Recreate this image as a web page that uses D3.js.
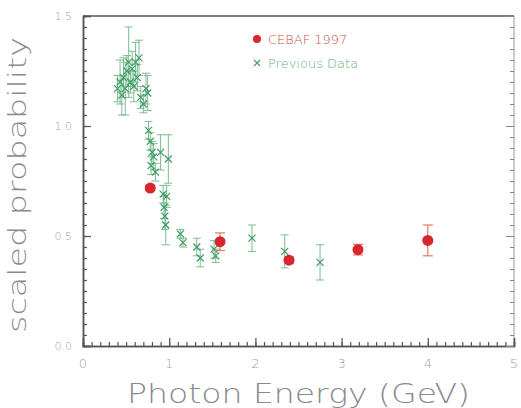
<!DOCTYPE html>
<html><head><meta charset="utf-8">
<script src="https://cdn.jsdelivr.net/npm/d3@7"></script>
<style>
body{margin:0;background:#fff;}
svg{display:block;}
text{font-family:"DejaVu Sans",sans-serif;}
</style></head>
<body><svg id="c" width="521" height="408"></svg>
<script>
// CEBAF 1997 data: energy (GeV), value, error
const cebafE   = [0.78, 1.59, 2.39, 3.19, 4.00];
const cebafVal = [0.718, 0.474, 0.390, 0.438, 0.480];
const cebafErr = [0.012, 0.040, 0.015, 0.024, 0.070];

// Previous data
const prevE   = [0.40,0.43,0.45,0.47,0.49,0.51,0.53,0.55,0.57,0.59,0.61,0.63,0.65,0.67,0.70,0.73,0.75,
                 0.76,0.78,0.80,0.82,0.79,0.84,0.90,0.99,
                 0.93,0.94,0.95,0.96,0.97,1.13,1.16,1.32,1.36,1.52,1.54,1.96,2.34,2.75];
const prevVal = [1.17,1.20,1.14,1.22,1.17,1.25,1.29,1.20,1.26,1.18,1.29,1.22,1.31,1.13,1.10,1.17,1.15,
                 0.98,0.93,0.88,0.86,0.82,0.79,0.88,0.85,
                 0.69,0.63,0.59,0.55,0.68,0.51,0.47,0.45,0.40,0.44,0.41,0.49,0.43,0.38];
const prevErr = [0.06,0.10,0.09,0.09,0.12,0.07,0.16,0.05,0.08,0.07,0.09,0.06,0.08,0.05,0.04,0.07,0.08,
                 0.04,0.04,0.05,0.06,0.04,0.04,0.08,0.11,
                 0.04,0.05,0.06,0.09,0.05,0.02,0.02,0.04,0.04,0.04,0.03,0.06,0.075,0.08];

const xTicks = [0,1,2,3,4,5];
const yTicks = [0,0.5,1.0,1.5];
const yTickLabels = ["0.0","0.5","1.0","1.5"];
const legendLabels = ["CEBAF 1997","Previous Data"];

const svg = d3.select("#c");
const x = d3.scaleLinear().domain([0,5]).range([83,514]);
const y = d3.scaleLinear().domain([0,1.5]).range([346,16]);

const axisCol = "#555", lblCol = "#a0a0a0";
const green = "#3d9c62", greenBar = "#7dbb93", red = "#d7262e", redBar = "#e27a63";

// frame
svg.append("line").attr("x1",x(0)).attr("x2",x(5)).attr("y1",y(1.5)).attr("y2",y(1.5)).attr("stroke",axisCol).attr("stroke-width",1.5);
svg.append("line").attr("x1",x(5)).attr("x2",x(5)).attr("y1",y(1.5)).attr("y2",y(0)).attr("stroke","#999").attr("stroke-width",1);

// minor ticks
function styleAxis(g){ g.select(".domain").attr("stroke",axisCol).attr("stroke-width",1.5); g.selectAll(".tick line").attr("stroke",axisCol).attr("stroke-width",1.2); g.selectAll("text").remove(); }
svg.append("g").attr("transform",`translate(0,${y(0)})`)
  .call(d3.axisBottom(x).tickValues(d3.range(0,5.001,0.1)).tickSize(-4).tickFormat(""))
  .call(styleAxis);
svg.append("g").attr("transform",`translate(0,${y(0)})`)
  .call(d3.axisBottom(x).tickValues(xTicks).tickSize(-8).tickFormat("")).call(styleAxis);
svg.append("g").attr("transform",`translate(${x(0)},0)`)
  .call(d3.axisLeft(y).tickValues(d3.range(0,1.5001,0.05)).tickSize(-4).tickFormat(""))
  .call(styleAxis);
svg.append("g").attr("transform",`translate(${x(0)},0)`)
  .call(d3.axisLeft(y).tickValues(yTicks).tickSize(-8).tickFormat("")).call(styleAxis);
const gr = svg.append("g").attr("transform",`translate(${x(5)},0)`)
  .call(d3.axisRight(y).tickValues(d3.range(0,1.5001,0.05)).tickSize(-4).tickFormat(""));
gr.select(".domain").remove(); gr.selectAll(".tick line").attr("stroke","#888");
const gr2 = svg.append("g").attr("transform",`translate(${x(5)},0)`)
  .call(d3.axisRight(y).tickValues(yTicks).tickSize(-8).tickFormat(""));
gr2.select(".domain").remove(); gr2.selectAll(".tick line").attr("stroke","#888");

// tick labels
svg.selectAll(".xl").data(xTicks).enter().append("text")
  .attr("x",d=>x(d)).attr("y",368).attr("text-anchor","middle")
  .attr("font-size",13).attr("font-weight",300).attr("fill",lblCol).text(d=>d);
svg.selectAll(".yl").data(yTicks).enter().append("text")
  .attr("x",72).attr("y",d=>y(d)+4).attr("text-anchor","end")
  .attr("font-size",11).attr("font-weight",300).attr("fill",lblCol).text((d,i)=>yTickLabels[i]);

// axis titles
svg.append("text").attr("x",127).attr("y",403).attr("textLength",343).attr("lengthAdjust","spacingAndGlyphs")
  .attr("font-size",27).attr("font-weight",200).attr("fill","#8a8a8a").text("Photon Energy (GeV)");
svg.append("text").attr("transform","translate(26,333) rotate(-90)").attr("textLength",296).attr("lengthAdjust","spacingAndGlyphs")
  .attr("font-size",25).attr("font-weight",200).attr("fill","#8a8a8a").text("scaled probability");

// previous data
const prev = prevE.map((e,i)=>({e, v:prevVal[i], s:prevErr[i]}));
const pg = svg.append("g");
prev.forEach(d=>{
  const cx=x(d.e), y1=y(d.v+d.s), y2=y(d.v-d.s);
  pg.append("line").attr("x1",cx).attr("x2",cx).attr("y1",y1).attr("y2",y2).attr("stroke",greenBar).attr("stroke-width",1);
  [y1,y2].forEach(yy=>pg.append("line").attr("x1",cx-4).attr("x2",cx+4).attr("y1",yy).attr("y2",yy).attr("stroke",greenBar).attr("stroke-width",1));
});
prev.forEach(d=>{
  const cx=x(d.e), cy=y(d.v), r=3.5;
  pg.append("path").attr("d",`M${cx-r},${cy-r}L${cx+r},${cy+r}M${cx-r},${cy+r}L${cx+r},${cy-r}`)
    .attr("stroke",green).attr("stroke-width",1.2).attr("fill","none");
});

// CEBAF
const ceb = cebafE.map((e,i)=>({e, v:cebafVal[i], s:cebafErr[i]}));
const cg = svg.append("g");
ceb.forEach(d=>{
  const cx=x(d.e), y1=y(d.v+d.s), y2=y(d.v-d.s);
  cg.append("line").attr("x1",cx).attr("x2",cx).attr("y1",y1).attr("y2",y2).attr("stroke",redBar).attr("stroke-width",1.2);
  [y1,y2].forEach(yy=>cg.append("line").attr("x1",cx-5).attr("x2",cx+5).attr("y1",yy).attr("y2",yy).attr("stroke",redBar).attr("stroke-width",1.2));
  cg.append("circle").attr("cx",cx).attr("cy",y(d.v)).attr("r",5.5).attr("fill",red);
});

// legend
svg.append("circle").attr("cx",257).attr("cy",39).attr("r",4).attr("fill",red);
svg.append("text").attr("x",268).attr("y",44).attr("font-size",13).attr("font-weight",300).attr("fill","#d0504a").text(legendLabels[0]);
svg.append("path").attr("d","M254,60L260,66M254,66L260,60").attr("stroke",green).attr("stroke-width",1.1);
svg.append("text").attr("x",268).attr("y",68).attr("font-size",13).attr("font-weight",300).attr("fill","#6fae86").text(legendLabels[1]);
</script></body></html>
